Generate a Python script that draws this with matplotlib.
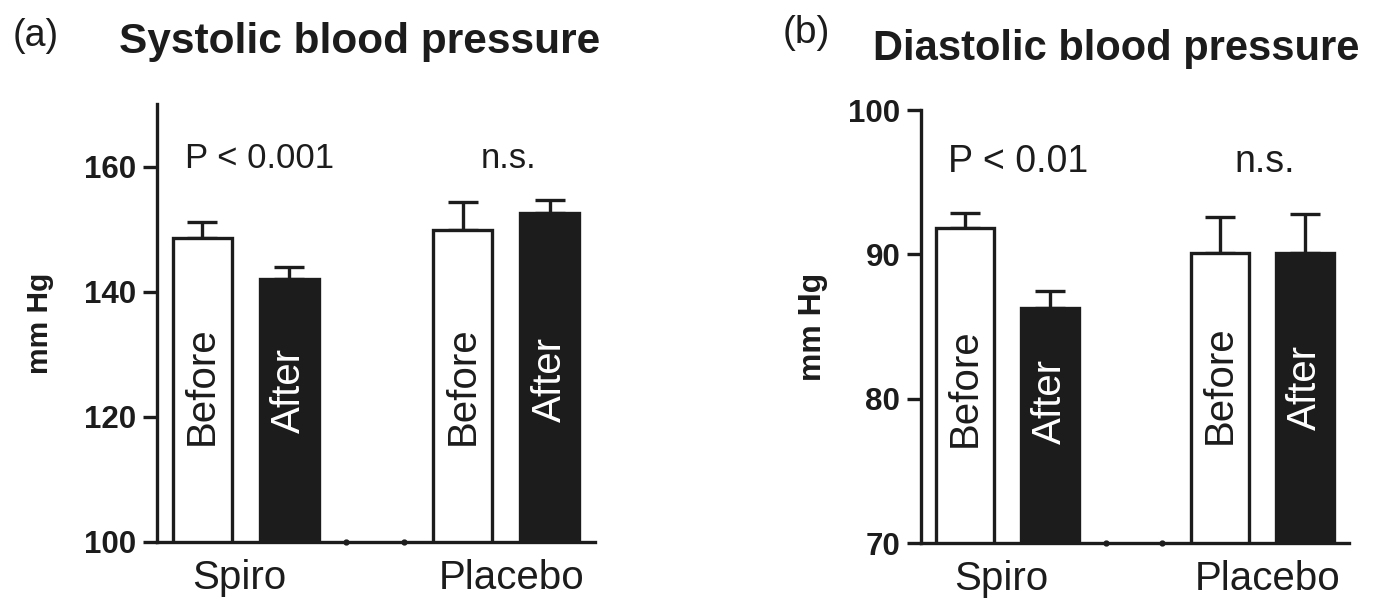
import matplotlib
matplotlib.use("Agg")
import matplotlib.pyplot as plt

plt.rcParams["font.family"] = ["Liberation Sans", "DejaVu Sans"]

# data (mean and upper SE)
groups = ["Spiro", "Placebo"]
bar_labels = ["Before", "After"]

sys_before = [148.6, 149.8]
sys_before_err = [2.6, 4.6]
sys_after = [142.1, 152.6]
sys_after_err = [1.8, 2.0]

dia_before = [91.8, 90.1]
dia_before_err = [1.05, 2.5]
dia_after = [86.3, 90.1]
dia_after_err = [1.15, 2.7]

sys_ticks = [100, 120, 140, 160]
dia_ticks = [70, 80, 90, 100]
sys_pvals = ["P < 0.001", "n.s."]
dia_pvals = ["P < 0.01", "n.s."]

INK = "#1c1c1c"
LW = 2.4


def draw_panel(ax, before, before_err, after, after_err, ylim, ticks, pvals,
               p_y, text_fracs, fs_p, fs_lab, fs_ylab, ylab_x):
    before_x = [0, 3]
    after_x = [1, 4]
    w = 0.68
    ax.bar(before_x, [b - ylim[0] for b in before], bottom=ylim[0], width=w,
           color="white", edgecolor=INK, linewidth=LW, zorder=3)
    ax.bar(after_x, [a - ylim[0] for a in after], bottom=ylim[0], width=w,
           color=INK, edgecolor=INK, linewidth=LW, zorder=3)
    for xs, ys, es in [(before_x, before, before_err), (after_x, after, after_err)]:
        ax.errorbar(xs, ys, yerr=[[0] * len(es), es], fmt="none", ecolor=INK,
                    elinewidth=LW, capsize=11, capthick=LW, zorder=2)

    # labels written inside the bars
    span = ylim[1] - ylim[0]
    for i, x in enumerate(before_x):
        ax.text(x, ylim[0] + text_fracs[0][i] * span, bar_labels[0], rotation=90,
                ha="center", va="center", fontsize=29, color=INK, zorder=4)
    for i, x in enumerate(after_x):
        ax.text(x, ylim[0] + text_fracs[1][i] * span, bar_labels[1], rotation=90,
                ha="center", va="center", fontsize=29, color="white", zorder=4)

    # p-values
    ax.text(-0.2, p_y, pvals[0], ha="left", va="baseline", fontsize=fs_p, color=INK)
    ax.text(3.53, p_y, pvals[1], ha="center", va="baseline", fontsize=fs_p, color=INK)

    # little axis dots between groups
    ax.plot([1.66, 2.32], [ylim[0], ylim[0]], "o", ms=3.5, color=INK,
            clip_on=False, zorder=5)

    ax.set_xlim(-0.52, 4.52)
    ax.set_ylim(*ylim)
    ax.set_yticks(ticks)
    ax.set_xticks([0.43, 3.56])
    ax.set_xticklabels(groups, fontsize=fs_lab, color=INK)
    for lab in ax.get_yticklabels():
        lab.set_fontweight("bold")
        lab.set_fontsize(22.5)
        lab.set_color(INK)
    ax.tick_params(axis="y", length=10, width=LW, pad=5, color=INK)
    ax.tick_params(axis="x", length=0, pad=12)
    for s in ["top", "right"]:
        ax.spines[s].set_visible(False)
    for s in ["left", "bottom"]:
        ax.spines[s].set_linewidth(LW)
        ax.spines[s].set_color(INK)
    ax.set_ylabel("mm Hg", fontsize=fs_ylab, fontweight="bold", color=INK)
    ax.yaxis.set_label_coords(ylab_x, 0.5)


fig = plt.figure(figsize=(13.75, 6.14), dpi=100)
ax1 = fig.add_axes([0.1142, 0.1173, 0.3185, 0.7134])
ax2 = fig.add_axes([0.6698, 0.1156, 0.3113, 0.7052])

draw_panel(ax1, sys_before, sys_before_err, sys_after, sys_after_err,
           (100, 170), sys_ticks, sys_pvals, 159.8,
           [[0.356, 0.356], [0.346, 0.371]], 25, 29, 21.5, -0.235)
draw_panel(ax2, dia_before, dia_before_err, dia_after, dia_after_err,
           (70, 100), dia_ticks, dia_pvals, 95.7,
           [[0.359, 0.365], [0.327, 0.36]], 27, 29, 23, -0.217)

fig.text(0.2615, 0.913, "Systolic blood pressure", ha="center", va="baseline",
         fontsize=30.5, fontweight="bold", color=INK)
fig.text(0.8116, 0.902, "Diastolic blood pressure", ha="center", va="baseline",
         fontsize=30, fontweight="bold", color=INK)
fig.text(0.009, 0.925, "(a)", ha="left", va="baseline", fontsize=27, color=INK)
fig.text(0.569, 0.93, "(b)", ha="left", va="baseline", fontsize=28, color=INK)

fig.savefig("out.png", dpi=100)
